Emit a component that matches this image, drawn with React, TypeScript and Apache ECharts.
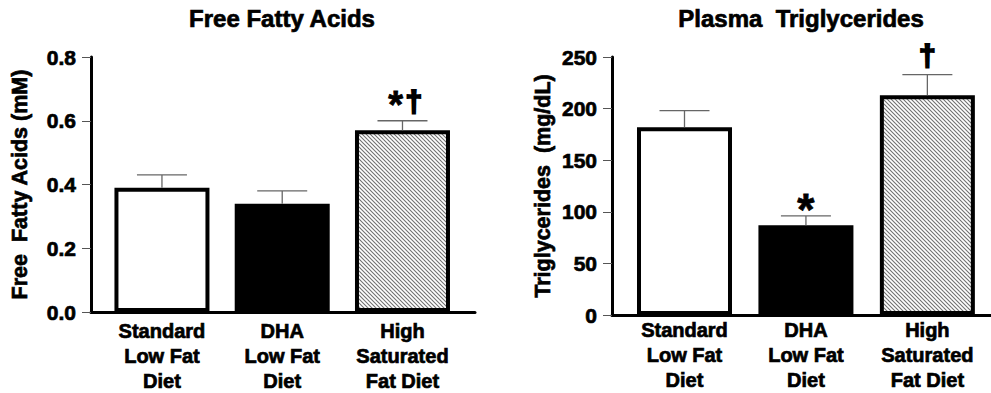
import React, { useEffect, useRef } from 'react';
import * as echarts from 'echarts';

// ---- data ----
const categories = ['Standard\nLow Fat\nDiet', 'DHA\nLow Fat\nDiet', 'High\nSaturated\nFat Diet'];
const positions = [1, 2, 3];
const ffaMeans = [0.39, 0.34, 0.57];
const ffaErrors = [0.04, 0.04, 0.03];
const ffaMarks = ['', '', '*†'];
const ffaTicks = [0, 0.2, 0.4, 0.6, 0.8];
const tgMeans = [182, 87, 213];
const tgErrors = [16, 9, 20];
const tgMarks = ['', '*', '†'];
const tgTicks = [0, 50, 100, 150, 200, 250];

const FONT = '"Liberation Sans", Arial, Helvetica, sans-serif';
const HEAVY = { textBorderColor: '#000', textBorderWidth: 0.7 };

function makeHatch(): HTMLCanvasElement {
  const s = 8;
  const c = document.createElement('canvas');
  c.width = s;
  c.height = s;
  const ctx = c.getContext('2d')!;
  ctx.fillStyle = '#ffffff';
  ctx.fillRect(0, 0, s, s);
  ctx.strokeStyle = '#707070';
  ctx.lineWidth = 1.1;
  for (const off of [-8, -4, 0, 4, 8]) {
    ctx.beginPath();
    ctx.moveTo(off - 2, -2);
    ctx.lineTo(off + s + 2, s + 2);
    ctx.stroke();
  }
  return c;
}

function errorRenderer(marks: string[]) {
  return (params: any, api: any) => {
    const x = api.value(0);
    const mean = api.value(1);
    const err = api.value(2);
    const base = api.coord([x, mean]);
    const top = api.coord([x, mean + err]);
    const half = 25;
    const lineStyle = { stroke: '#666', lineWidth: 1.3 };
    const children: any[] = [
      { type: 'line', shape: { x1: base[0], y1: base[1], x2: top[0], y2: top[1] }, style: lineStyle },
      { type: 'line', shape: { x1: top[0] - half, y1: top[1], x2: top[0] + half, y2: top[1] }, style: lineStyle },
    ];
    const chars = Array.from(marks[params.dataIndex] || '');
    const n = chars.length;
    chars.forEach((ch, i) => {
      const cx = top[0] + 4.5 * (n - 1) / 2 + (i - (n - 1) / 2) * 18;
      const isStar = ch === '*';
      const size = isStar ? (n > 1 ? 38 : 44) : 30;
      const y = isStar ? (n > 1 ? top[1] - 16 : top[1] - 6) : top[1] - 19.5;
      children.push({
        type: 'text',
        x: cx,
        y,
        style: {
          text: ch,
          fill: '#000',
          stroke: '#000',
          lineWidth: isStar ? 0.8 : 2,
          font: `bold ${size}px ${FONT}`,
          align: 'center',
          verticalAlign: 'middle',
        },
      });
    });
    return { type: 'group', children };
  };
}

function xAxisFor(gridIndex: number, min: number, max: number, margin: number) {
  return {
    gridIndex,
    type: 'value',
    min,
    max,
    axisLine: { show: true, lineStyle: { color: '#000', width: 3 } },
    axisTick: { show: false },
    splitLine: { show: false },
    axisLabel: {
      customValues: positions,
      formatter: (v: number) => categories[Math.round(v) - 1],
      fontSize: 20,
      fontWeight: 'bold',
      fontFamily: FONT,
      color: '#000',
      lineHeight: 25,
      margin,
      ...HEAVY,
    },
  };
}

function yAxisFor(gridIndex: number, ticks: number[], name: string, digits: number, margin: number, nameGap: number) {
  return {
    gridIndex,
    type: 'value',
    min: ticks[0],
    max: ticks[ticks.length - 1],
    interval: ticks[1] - ticks[0],
    axisLine: { show: true, lineStyle: { color: '#000', width: 3 } },
    axisTick: { show: true, length: 9, lineStyle: { color: '#555', width: 1 } },
    splitLine: { show: false },
    axisLabel: {
      formatter: (v: number) => v.toFixed(digits),
      fontSize: 21,
      fontWeight: 'bold',
      fontFamily: FONT,
      color: '#000',
      margin,
      ...HEAVY,
    },
    name,
    nameLocation: 'middle',
    nameGap,
    nameTextStyle: { fontSize: 21.5, fontWeight: 'bold', fontFamily: FONT, color: '#000', ...HEAVY },
  };
}

export default function App() {
  const ref = useRef<HTMLDivElement>(null);
  useEffect(() => {
    if (!ref.current) return;
    const chart = echarts.init(ref.current, null, { renderer: 'svg' });
    const hatch = makeHatch();
    const barStyles = [
      { color: '#ffffff', borderColor: '#000', borderWidth: 4 },
      { color: '#000000', borderColor: '#000', borderWidth: 4 },
      { color: { image: hatch, repeat: 'repeat' }, borderColor: '#000', borderWidth: 4 },
    ];
    const titleStyle = { font: `bold 24px ${FONT}`, fill: '#000', stroke: '#000', lineWidth: 0.7, align: 'center', verticalAlign: 'middle' };
    chart.setOption({
      animation: false,
      backgroundColor: '#ffffff',
      graphic: [
        { type: 'text', x: 282, y: 18.5, style: { text: 'Free Fatty Acids', ...titleStyle } },
        { type: 'text', x: 801, y: 18.5, style: { text: 'Plasma  Triglycerides', ...titleStyle } },
      ],
      grid: [
        { left: 91, top: 57, width: 384, height: 260 },
        { left: 612, top: 57, width: 379, height: 258 },
      ],
      xAxis: [xAxisFor(0, 0.41, 3.603, 6), xAxisFor(1, 0.403, 3.524, 2)],
      yAxis: [
        yAxisFor(0, ffaTicks, 'Free  Fatty Acids (mM)', 1, 15, 60),
        yAxisFor(1, tgTicks, 'Triglycerides  (mg/dL)', 0, 15, 58),
      ],
      series: [
        {
          type: 'bar',
          xAxisIndex: 0,
          yAxisIndex: 0,
          barWidth: 95,
          data: positions.map((p, i) => ({ value: [p, ffaMeans[i]], itemStyle: barStyles[i] })),
        },
        {
          type: 'custom',
          xAxisIndex: 0,
          yAxisIndex: 0,
          z: 5,
          encode: { x: 0, y: 1 },
          data: positions.map((p, i) => [p, ffaMeans[i], ffaErrors[i]]),
          renderItem: errorRenderer(ffaMarks),
        },
        {
          type: 'bar',
          xAxisIndex: 1,
          yAxisIndex: 1,
          barWidth: 95,
          data: positions.map((p, i) => ({ value: [p, tgMeans[i]], itemStyle: barStyles[i] })),
        },
        {
          type: 'custom',
          xAxisIndex: 1,
          yAxisIndex: 1,
          z: 5,
          encode: { x: 0, y: 1 },
          data: positions.map((p, i) => [p, tgMeans[i], tgErrors[i]]),
          renderItem: errorRenderer(tgMarks),
        },
      ],
    });
    return () => chart.dispose();
  }, []);
  return <div ref={ref} style={{ position: 'fixed', left: 0, top: 0, width: 991, height: 393 }} />;
}
